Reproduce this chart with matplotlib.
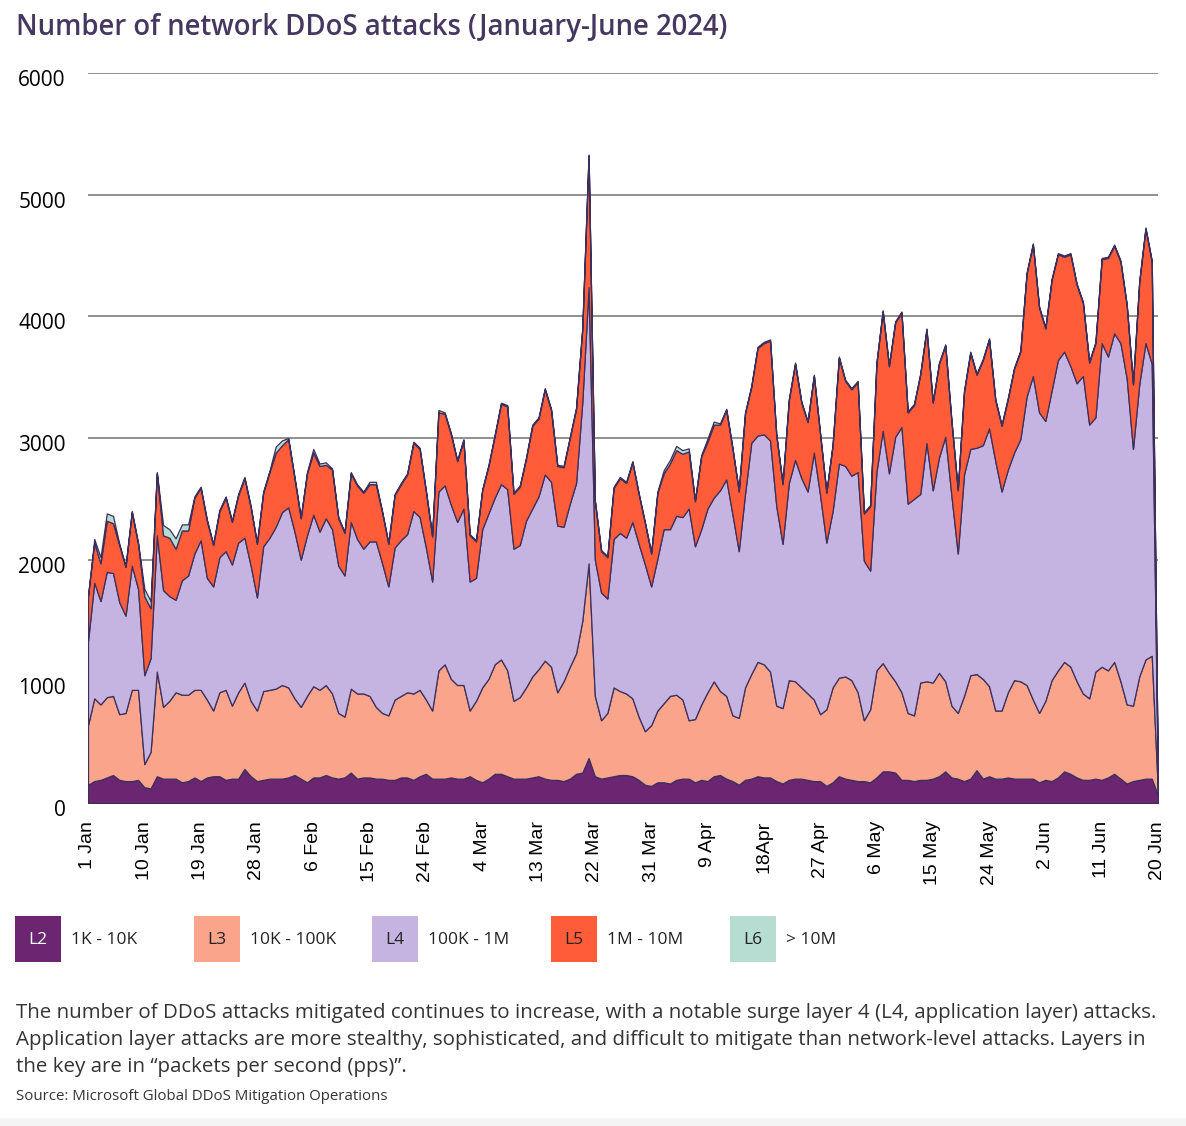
import numpy as np
import matplotlib
matplotlib.use("Agg")
import matplotlib.pyplot as plt
import matplotlib.transforms as mtransforms
from matplotlib.patches import Rectangle

W, H = 1186, 1126

# x axis: one point per day, 1 Jan .. 20 Jun 2024
tick_labels = ['1 Jan', '10 Jan', '19 Jan', '28 Jan', '6 Feb', '15 Feb', '24 Feb',
               '4 Mar', '13 Mar', '22 Mar', '31 Mar', '9 Apr', '18Apr', '27 Apr',
               '6 May', '15 May', '24 May', '2 Jun', '11 Jun', '20 Jun']

# daily attack counts per layer
l2 = [150, 180, 190, 210, 230, 190, 180, 180, 190, 130,
      120, 220, 200, 200, 200, 170, 180, 210, 180, 210,
      220, 220, 190, 200, 200, 280, 220, 180, 190, 200,
      200, 200, 210, 230, 200, 170, 210, 210, 230, 210,
      200, 210, 250, 200, 210, 210, 200, 200, 190, 190,
      210, 210, 190, 220, 240, 200, 200, 200, 210, 200,
      200, 220, 190, 170, 200, 240, 240, 220, 200, 200,
      200, 210, 220, 200, 190, 190, 180, 200, 240, 250,
      370, 220, 200, 210, 220, 230, 230, 220, 190, 150,
      140, 170, 170, 160, 190, 200, 200, 170, 190, 180,
      220, 230, 200, 180, 150, 190, 200, 220, 210, 210,
      180, 160, 190, 200, 200, 190, 180, 180, 140, 170,
      220, 200, 190, 180, 180, 170, 210, 260, 260, 250,
      190, 190, 180, 190, 190, 200, 220, 260, 210, 200,
      180, 200, 270, 200, 220, 200, 200, 210, 200, 200,
      200, 200, 170, 190, 180, 210, 260, 240, 210, 190,
      190, 200, 190, 210, 240, 200, 160, 180, 190, 200,
      200, 60]
l3 = [490, 680, 620, 660, 650, 540, 560, 750, 740, 190,
      300, 860, 590, 640, 710, 720, 710, 720, 750, 640,
      540, 690, 740, 600, 710, 710, 620, 580, 730, 730,
      740, 770, 740, 630, 590, 710, 750, 720, 740, 690,
      540, 500, 690, 700, 690, 670, 590, 540, 530, 660,
      670, 700, 710, 710, 610, 560, 890, 940, 810, 770,
      770, 540, 650, 780, 820, 900, 940, 870, 640, 670,
      750, 830, 880, 970, 930, 720, 820, 920, 990, 1250,
      1600, 660, 480, 530, 730, 690, 670, 640, 520, 440,
      500, 590, 650, 720, 700, 650, 480, 520, 620, 730,
      780, 690, 680, 540, 550, 760, 860, 940, 930, 870,
      620, 620, 820, 800, 750, 710, 670, 550, 630, 780,
      810, 840, 820, 730, 500, 600, 880, 890, 810, 750,
      720, 550, 540, 800, 810, 790, 850, 740, 590, 540,
      700, 850, 790, 820, 740, 560, 560, 700, 810, 800,
      770, 650, 570, 650, 830, 880, 900, 880, 790, 710,
      670, 880, 930, 880, 920, 800, 650, 620, 850, 980,
      1010, 20]
l4 = [690, 950, 850, 1030, 1010, 920, 800, 1020, 830, 730,
      770, 1120, 960, 860, 760, 940, 980, 1120, 1230, 1000,
      1020, 1110, 1140, 1160, 1230, 1190, 1110, 930, 1190, 1250,
      1330, 1420, 1480, 1370, 1210, 1320, 1410, 1300, 1370, 1350,
      1210, 1160, 1370, 1270, 1190, 1270, 1360, 1230, 1060, 1250,
      1280, 1300, 1500, 1420, 1250, 1060, 1470, 1470, 1430, 1340,
      1450, 1060, 1010, 1300, 1360, 1370, 1440, 1490, 1250, 1250,
      1370, 1380, 1420, 1530, 1520, 1370, 1270, 1340, 1400, 1800,
      2270, 1120, 1050, 940, 1220, 1300, 1280, 1450, 1420, 1370,
      1140, 1250, 1430, 1370, 1470, 1500, 1740, 1420, 1440, 1510,
      1510, 1650, 1780, 1650, 1370, 1590, 1900, 1860, 1890, 1900,
      1640, 1350, 1620, 1820, 1720, 1660, 2030, 1800, 1370, 1450,
      1760, 1730, 1680, 1810, 1310, 1140, 1630, 1910, 1640, 2010,
      2180, 1720, 1780, 1550, 1960, 1580, 1770, 2010, 1720, 1310,
      1820, 1860, 1860, 1920, 2120, 2050, 1800, 1830, 1870, 1990,
      2370, 2660, 2470, 2300, 2380, 2550, 2550, 2470, 2450, 2610,
      2250, 2090, 2660, 2580, 2700, 2780, 2680, 2110, 2400, 2600,
      2400, 15]
l5 = [370, 330, 310, 420, 410, 470, 400, 440, 370, 650,
      410, 510, 450, 480, 420, 410, 370, 460, 430, 470,
      340, 380, 440, 350, 390, 490, 480, 440, 440, 540,
      610, 550, 560, 440, 340, 510, 510, 540, 440, 490,
      390, 350, 400, 440, 460, 470, 470, 420, 350, 430,
      460, 490, 560, 560, 460, 370, 650, 590, 580, 500,
      560, 380, 300, 320, 390, 510, 660, 680, 450, 480,
      510, 680, 640, 700, 590, 490, 490, 540, 610, 600,
      1080, 480, 340, 340, 420, 450, 450, 490, 410, 340,
      270, 540, 460, 540, 540, 520, 470, 370, 600, 550,
      600, 540, 570, 540, 490, 660, 460, 720, 750, 820,
      580, 490, 680, 790, 620, 570, 630, 500, 410, 540,
      870, 700, 710, 740, 390, 530, 890, 980, 880, 940,
      940, 750, 770, 980, 930, 720, 770, 750, 610, 520,
      680, 790, 600, 700, 730, 500, 540, 580, 690, 720,
      1010, 1080, 860, 760, 910, 870, 780, 920, 810, 600,
      510, 610, 690, 810, 720, 670, 600, 530, 840, 940,
      840, 5]
l6 = [0, 30, 50, 60, 60, 10, 10, 10, 10, 60,
      60, 10, 85, 70, 85, 50, 50, 10, 10, 10,
      10, 10, 10, 10, 10, 10, 10, 10, 10, 10,
      50, 40, 10, 10, 10, 10, 30, 20, 20, 10,
      10, 10, 10, 10, 10, 20, 20, 10, 10, 10,
      10, 10, 10, 10, 10, 10, 20, 10, 10, 10,
      10, 10, 10, 10, 10, 10, 10, 10, 10, 10,
      10, 10, 10, 10, 10, 10, 10, 10, 10, 10,
      10, 10, 10, 10, 10, 10, 10, 10, 10, 10,
      10, 10, 25, 30, 35, 30, 25, 10, 10, 25,
      25, 10, 10, 10, 10, 10, 10, 10, 10, 10,
      10, 10, 10, 10, 10, 10, 10, 10, 10, 10,
      10, 10, 10, 10, 10, 10, 10, 10, 10, 10,
      10, 10, 10, 10, 10, 10, 10, 10, 10, 10,
      10, 10, 10, 10, 10, 10, 10, 10, 10, 10,
      10, 10, 10, 10, 10, 10, 10, 10, 10, 10,
      10, 10, 10, 10, 10, 10, 10, 10, 10, 10,
      10, 0]

layers = ['L2', 'L3', 'L4', 'L5', 'L6']
ranges = ['1K - 10K', '10K - 100K', '100K - 1M', '1M - 10M', '> 10M']
colors = ['#6c2570', '#fba48c', '#c5b4e1', '#ff5c39', '#b7ddd2']
label_colors = ['white', '#222222', '#222222', '#222222', '#222222']

days = np.arange(len(l2))

fig = plt.figure(figsize=(W / 100, H / 100), dpi=100)
ax = fig.add_axes([88 / W, 1 - 803 / H, (1158 - 88) / W, (803 - 73) / H])

ax.stackplot(days, l2, l3, l4, l5, l6, colors=colors,
             edgecolor='#3b2f5c', linewidth=0.9, zorder=3)

ax.set_xlim(0, days[-1])
ax.set_ylim(0, 6000)
ax.set_yticks(range(0, 6001, 1000))
ax.set_yticklabels([str(v) for v in range(0, 6001, 1000)],
                   family='Open Sans', fontsize=15, fontweight='medium')
ax.set_xticks(np.arange(0, len(days), 9))
ax.set_xticklabels(tick_labels, rotation=90, family='Liberation Sans', fontsize=14)
ax.tick_params(axis='y', length=0, pad=16)
ax.tick_params(axis='x', length=0, pad=13)
ax.grid(axis='y', color='#7d7d7d', linewidth=1.2, zorder=0)
ax.grid(axis='x', visible=False)
for s in ax.spines.values():
    s.set_visible(False)

# y labels sit a little below their gridlines in the original
shift = mtransforms.ScaledTranslation(0, -5 / 100, fig.dpi_scale_trans)
for lab in ax.get_yticklabels():
    lab.set_transform(lab.get_transform() + shift)


def px(x, y):
    return x / W, 1 - y / H


fig.text(*px(16, 28), 'Number of network DDoS attacks (January-June 2024)',
         family='Open Sans', fontsize=19.8, fontweight='semibold', color='#45375f',
         va='center', ha='left')

# legend boxes
box_x = [15, 194, 372, 551, 730]
for i in range(5):
    x0 = box_x[i]
    fig.add_artist(Rectangle(px(x0, 962), 46 / W, 46 / H, transform=fig.transFigure,
                             facecolor=colors[i], edgecolor='none'))
    fig.text(*px(x0 + 23, 940), layers[i], family='Open Sans', fontsize=12.5,
             color=label_colors[i], ha='center', va='center')
    fig.text(*px(x0 + 56, 940), ranges[i], family='Open Sans', fontsize=12.5,
             color='#222222', ha='left', va='center')

caption = ['The number of DDoS attacks mitigated continues to increase, with a notable surge layer 4 (L4, application layer) attacks.',
           'Application layer attacks are more stealthy, sophisticated, and difficult to mitigate than network-level attacks. Layers in',
           'the key are in \u201cpackets per second (pps)\u201d.']
for i, line in enumerate(caption):
    fig.text(*px(16, 1013 + 27 * i), line, family='Open Sans', fontsize=14.75,
             color='#333333', ha='left', va='center')
fig.text(*px(16, 1097), 'Source: Microsoft Global DDoS Mitigation Operations',
         family='Open Sans', fontsize=10.8, color='#333333', ha='left', va='center')

fig.add_artist(Rectangle((0, 0), 1, 8 / H, transform=fig.transFigure,
                         facecolor='#f4f4f4', edgecolor='none'))

fig.savefig('out.png', dpi=100)
